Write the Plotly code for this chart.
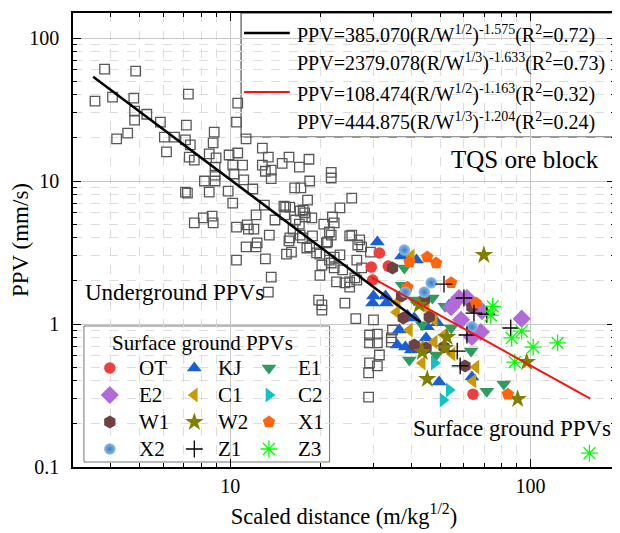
import plotly.graph_objects as go
import numpy as np

# ---------------- data ----------------
# Underground PPVs (open squares)
ug_x = [3.82, 4.85, 3.55, 4.06, 4.78, 7.26, 4.81, 5.28, 4.81, 5.86, 7.15, 4.19, 4.56, 6.04, 6.53,
        7.10, 7.37, 6.14, 8.85, 8.78, 8.52, 8.98, 7.31, 7.60, 8.91, 8.21, 8.91, 8.91, 9.92, 8.52,
        7.10, 7.21, 9.85, 7.60, 8.14, 8.71, 8.78, 10.6, 10.5, 11.3, 10.6, 10.2, 11.0, 10.3, 11.1,
        11.9, 10.2, 12.8, 12.8, 13.1, 13.7, 13.7, 13.0, 15.1, 15.7, 14.9, 17.0, 18.3, 16.4, 17.2,
        18.4, 18.1, 17.1, 16.5, 10.5, 11.4, 11.5, 12.2, 12.0, 13.5, 11.3, 12.2, 12.3, 10.5, 13.1,
        15.4, 16.0, 15.7, 16.2, 17.0, 17.8, 17.4, 18.8, 19.4, 17.7, 13.4, 14.1, 15.3, 15.2, 18.7,
        20.5, 21.9, 22.2, 21.4, 21.1, 18.0, 19.9, 20.2, 21.7, 13.7, 19.9, 22.2, 13.4, 23.2, 21.4,
        23.7, 26.4, 27.4, 22.6, 24.1, 25.0, 25.0, 26.4, 19.7, 20.2, 20.2, 24.1, 26.2, 30.0, 29.1,
        30.9, 29.1, 30.9, 31.4, 29.1, 30.9, 28.9, 28.9, 34.4, 34.4, 34.7, 21.7, 21.7, 15.8, 17.5,
        23.2, 25.4, 21.7, 25.0, 27.0, 27.4, 15.8, 17.1, 18.4, 20.9, 25.4, 26.6, 22.2, 26.0, 29.3]
ug_y = [60.6, 58.6, 36.2, 38.6, 38.0, 40.5, 30.8, 29.3, 26.7, 25.8, 24.6, 19.7, 21.6, 20.3, 20.3,
        19.4, 17.9, 16.0, 22.0, 18.5, 15.5, 14.5, 14.7, 14.0, 12.5, 10.0, 11.0, 10.0, 15.2, 8.37,
        8.37, 8.24, 8.51, 5.09, 5.52, 5.69, 5.09, 35.1, 25.8, 19.7, 15.7, 12.9, 12.9, 11.2, 10.2,
        8.79, 7.01, 17.0, 12.9, 11.7, 11.9, 10.4, 6.79, 6.68, 14.7, 13.3, 12.5, 14.2, 8.94, 8.94,
        10.0, 7.36, 6.17, 5.34, 4.76, 4.93, 4.61, 5.79, 4.61, 4.19, 3.46, 3.46, 3.69, 2.80, 2.85,
        3.08, 3.18, 3.81, 4.61, 5.00, 5.60, 4.00, 4.13, 3.14, 5.98, 14.7, 5.34, 6.57, 5.79, 5.52,
        5.00, 5.60, 5.09, 4.40, 3.75, 3.40, 3.08, 2.58, 2.67, 2.13, 2.19, 2.47, 1.67, 3.04, 2.80,
        2.39, 2.80, 2.47, 1.97, 1.94, 1.97, 1.81, 2.03, 1.47, 1.36, 1.25, 1.40, 1.09, 1.07, 0.838,
        0.851, 0.737, 0.737, 0.607, 0.534, 0.509, 0.455, 0.308, 0.799, 0.748, 0.908, 11.5, 10.5, 6.57, 6.27,
        6.48, 7.60, 4.19, 4.13, 3.87, 3.46, 4.00, 4.19, 3.46, 3.69, 4.19, 3.57, 2.94, 2.10, 3.18]

# Surface ground PPVs by station
ot_x = [31.4, 29.5, 33.6, 29.8, 64.3]
ot_y = [3.14, 2.50, 2.54, 2.03, 0.323]
kj_x = [30.9, 37.2, 41.7, 30.0, 32.9, 29.8, 33.1, 38.9, 36.6, 36.0, 38.3, 40.1, 44.9, 48.9, 45.3, 49.6, 63.8, 41.0, 53.6]
kj_y = [3.75, 2.99, 2.80, 1.57, 1.57, 1.40, 1.40, 1.15, 0.908, 0.713, 0.690, 0.658, 0.799, 1.02, 0.955, 0.393, 0.426, 1.10, 1.36]
e1_x = [38.0, 37.4, 41.0, 47.1, 51.9, 54.4, 48.5, 63.4, 71.5, 81.4, 39.5, 43.6]
e1_y = [2.46, 1.87, 1.47, 1.52, 1.33, 0.938, 0.607, 0.647, 0.339, 0.380, 0.560, 0.988]
e2_x = [54.4, 57.8, 61.4, 58.7, 68.3, 63.8, 68.9, 93.4]
e2_y = [1.31, 1.52, 1.52, 1.07, 0.879, 0.811, 1.23, 1.09]
c1_x = [40.1, 36.0, 35.8, 44.9, 47.8, 39.5, 47.8, 43.2, 54.8, 43.6, 65.8, 64.3, 51.5]
c1_y = [2.99, 1.42, 1.21, 1.31, 1.07, 0.908, 0.748, 0.690, 0.617, 0.534, 0.500, 0.400, 0.838]
c2_x = [47.8, 53.6, 51.1]
c2_y = [0.534, 0.345, 0.294]
w1_x = [34.7, 37.2, 44.3, 37.7, 46.0, 41.0, 44.9, 51.5, 60.5, 63.8]
w1_y = [2.46, 1.57, 1.47, 1.10, 1.12, 0.713, 0.680, 0.690, 0.509, 1.31]
w2_x = [69.9, 42.6, 52.7, 51.9, 43.6, 45.3, 97.1, 90.6]
w2_y = [3.04, 1.36, 0.811, 0.680, 0.637, 0.412, 0.542, 0.299]
x1_x = [45.3, 48.5, 39.5, 54.4, 65.8, 38.9, 84.0]
x1_y = [2.94, 2.67, 2.71, 1.94, 1.40, 1.81, 0.323]
x2_x = [38.0, 46.7, 38.3, 44.3, 63.8]
x2_y = [3.29, 1.94, 1.67, 1.67, 0.955]
z1_x = [51.5, 60.0, 64.8, 71.5, 85.9, 61.4, 57.0, 58.3]
z1_y = [1.90, 1.52, 1.19, 1.17, 0.938, 0.838, 0.647, 0.509]
z3_x = [74.8, 73.7, 93.4, 86.5, 102, 123, 88.6, 157]
z3_y = [1.33, 1.15, 0.893, 0.799, 0.690, 0.737, 0.542, 0.125]

# fitted relations (coef, exponent, x-extent)
fit_ug = dict(k=385.070, b=-1.575, xmin=3.5, xmax=43.0)
fit_sg = dict(k=108.474, b=-1.163, xmin=29.5, xmax=158.0)

eq_texts = [
    "PPV=385.070(R/W<sup>1/2</sup>)<sup>-1.575</sup>(R<sup>2</sup>=0.72)",
    "PPV=2379.078(R/W<sup>1/3</sup>)<sup>-1.633</sup>(R<sup>2</sup>=0.73)",
    "PPV=108.474(R/W<sup>1/2</sup>)<sup>-1.163</sup>(R<sup>2</sup>=0.32)",
    "PPV=444.875(R/W<sup>1/3</sup>)<sup>-1.204</sup>(R<sup>2</sup>=0.24)",
]

x_major = [10, 100]
x_minor = [3, 4, 5, 6, 7, 8, 9, 20, 30, 40, 50, 60, 70, 80, 90]
y_major = [0.1, 1, 10, 100]
y_minor = [0.2, 0.3, 0.4, 0.5, 0.6, 0.7, 0.8, 0.9, 2, 3, 4, 5, 6, 7, 8, 9,
           20, 30, 40, 50, 60, 70, 80, 90]

FONT = "Liberation Serif"

fig = go.Figure()


def fit_line(f, n=60):
    xs = np.logspace(np.log10(f["xmin"]), np.log10(f["xmax"]), n)
    return xs, f["k"] * xs ** f["b"]


fig.add_trace(go.Scatter(x=ug_x, y=ug_y, mode="markers", showlegend=False,
                         marker=dict(symbol="square-open", size=9.5, color="#585858",
                                     line=dict(width=1.3, color="#585858"))))

stations = [
    ("OT", ot_x, ot_y, "circle", "#EE3F3F", 11.5),
    ("KJ", kj_x, kj_y, "triangle-up", "#1A5FD6", 13),
    ("E1", e1_x, e1_y, "triangle-down", "#2E9C60", 13),
    ("E2", e2_x, e2_y, "diamond", "#B36AD9", 14),
    ("C1", c1_x, c1_y, "triangle-left", "#C99A06", 13),
    ("C2", c2_x, c2_y, "triangle-right", "#14C2C4", 13),
    ("W1", w1_x, w1_y, "hexagon", "#6E4242", 13),
    ("W2", w2_x, w2_y, "star", "#808000", 14),
    ("X1", x1_x, x1_y, "pentagon", "#FF650A", 13),
    ("X2", x2_x, x2_y, "circle", "#8DBDEB", 11.5),
    ("Z1", z1_x, z1_y, "cross-thin", "black", 12),
    ("Z3", z3_x, z3_y, "asterisk-open", "#00FF00", 14),
]


def marker_for(sym, col, size):
    m = dict(symbol=sym, size=size, color=col, line=dict(width=0))
    if sym in ("cross-thin", "asterisk-open"):
        m["line"] = dict(width=1.3, color=col)
    if sym == "circle" and col == "#8DBDEB":
        m["gradient"] = dict(type="radial", color="#3D7CC2")
    return m


for name, xs, ys, sym, col, size in stations:
    fig.add_trace(go.Scatter(x=xs, y=ys, mode="markers", name=name, showlegend=False,
                             marker=marker_for(sym, col, size)))

fx, fy = fit_line(fit_ug)
fig.add_trace(go.Scatter(x=fx, y=fy, mode="lines", line=dict(color="black", width=2.5),
                         showlegend=False, hoverinfo="skip"))
sx, sy = fit_line(fit_sg)
fig.add_trace(go.Scatter(x=sx, y=sy, mode="lines", line=dict(color="#FF1010", width=2),
                         showlegend=False, hoverinfo="skip"))

# ---------- manual legends (positions in plot-area fractions) ----------
PX_L, PX_W, PX_T, PX_H = 72, 545, 13, 454


def px2x(p):
    return (p - PX_L) / PX_W


def py2y(p):
    return (PX_T + PX_H - p) / PX_H


shapes = []
annotations = []

# equation legend box
shapes.append(dict(type="rect", xref="paper", yref="paper", x0=px2x(241), x1=1.0,
                   y0=py2y(137), y1=1.0, line=dict(color="#333333", width=1),
                   fillcolor="white", layer="between"))
row_py = [33, 62, 92, 121]
shapes.append(dict(type="line", xref="paper", yref="paper", x0=px2x(244), x1=px2x(290),
                   y0=py2y(row_py[0]), y1=py2y(row_py[0]), line=dict(color="black", width=2.5), layer="above"))
shapes.append(dict(type="line", xref="paper", yref="paper", x0=px2x(244), x1=px2x(290),
                   y0=py2y(row_py[2]), y1=py2y(row_py[2]), line=dict(color="#FF1010", width=2), layer="above"))
for t, ry in zip(eq_texts, row_py):
    annotations.append(dict(text=t, xref="paper", yref="paper", x=px2x(295), y=py2y(ry + 1),
                            xanchor="left", yanchor="middle", showarrow=False,
                            font=dict(family=FONT, size=20, color="black")))

# surface legend box
shapes.append(dict(type="rect", xref="paper", yref="paper", x0=px2x(83), x1=px2x(330),
                   y0=py2y(462), y1=py2y(326), line=dict(color="#777777", width=1),
                   fillcolor="white", layer="between"))
annotations.append(dict(text="Surface ground PPVs", xref="paper", yref="paper", x=px2x(202), y=py2y(343),
                        xanchor="center", yanchor="middle", showarrow=False,
                        font=dict(family=FONT, size=21, color="black")))
key_px = [109, 194, 269]
txt_px = [136, 216, 296]
key_py = [368, 395, 422, 449]
for i, (name, xs, ys, sym, col, size) in enumerate(stations):
    r, c = divmod(i, 3)
    fig.add_trace(go.Scatter(x=[px2x(key_px[c])], y=[py2y(key_py[r])], mode="markers",
                             xaxis="x2", yaxis="y2", showlegend=False, hoverinfo="skip",
                             marker=marker_for(sym, col, size)))
    annotations.append(dict(text=name, xref="paper", yref="paper", x=px2x(txt_px[c]), y=py2y(key_py[r]),
                            xanchor="left", yanchor="middle", showarrow=False,
                            font=dict(family=FONT, size=21, color="black")))

# other labels
annotations.append(dict(text="TQS ore block", xref="paper", yref="paper", x=px2x(603), y=py2y(160),
                        xanchor="right", yanchor="middle", showarrow=False,
                        font=dict(family=FONT, size=25, color="black")))
annotations.append(dict(text="Underground PPVs", xref="paper", yref="paper", x=px2x(82), y=py2y(292),
                        xanchor="left", yanchor="middle", showarrow=False,
                        font=dict(family=FONT, size=23, color="black")))
annotations.append(dict(text="Surface ground PPVs", xref="paper", yref="paper", x=px2x(412), y=py2y(428),
                        xanchor="left", yanchor="middle", showarrow=False,
                        font=dict(family=FONT, size=23, color="black")))

axis_common = dict(type="log", showline=True, linecolor="black", linewidth=1.5, mirror="allticks",
                   ticks="inside", ticklen=8, tickwidth=1.3, tickcolor="black",
                   showgrid=True, gridcolor="#C8C8C8", gridwidth=1, zeroline=False,
                   tickfont=dict(family=FONT, size=20, color="black"))

# page has an 8px body margin: figure is shifted, so size/margins compensate
fig.update_layout(
    width=612, height=525,
    margin=dict(l=64, r=3, t=5, b=66),
    paper_bgcolor="white", plot_bgcolor="white",
    showlegend=False,
    xaxis=dict(**axis_common, range=[0.477, 2.281], tickvals=x_major, ticktext=["10", "100"],
               minor=dict(tickvals=x_minor, ticks="inside", ticklen=4, tickcolor="black",
                          showgrid=True, gridcolor="#DDDDDD", griddash="dash"),
               title=dict(text="Scaled distance (m/kg<sup>1/2</sup>)",
                          font=dict(family=FONT, size=22.5, color="black"), standoff=12)),
    yaxis=dict(**axis_common, range=[-1, 2.175], tickvals=y_major, ticktext=["0.1", "1", "10", "100"],
               ticklabelstandoff=8,
               minor=dict(tickvals=y_minor, ticks="inside", ticklen=4, tickcolor="black",
                          showgrid=True, gridcolor="#DDDDDD", griddash="dash"),
               title=dict(text="PPV (mm/s)", font=dict(family=FONT, size=23, color="black"), standoff=2)),
    xaxis2=dict(overlaying="x", range=[0, 1], visible=False, anchor="y2"),
    yaxis2=dict(overlaying="y", range=[0, 1], visible=False, anchor="x2"),
    shapes=shapes,
    annotations=annotations,
)

fig.write_html("out.html")
